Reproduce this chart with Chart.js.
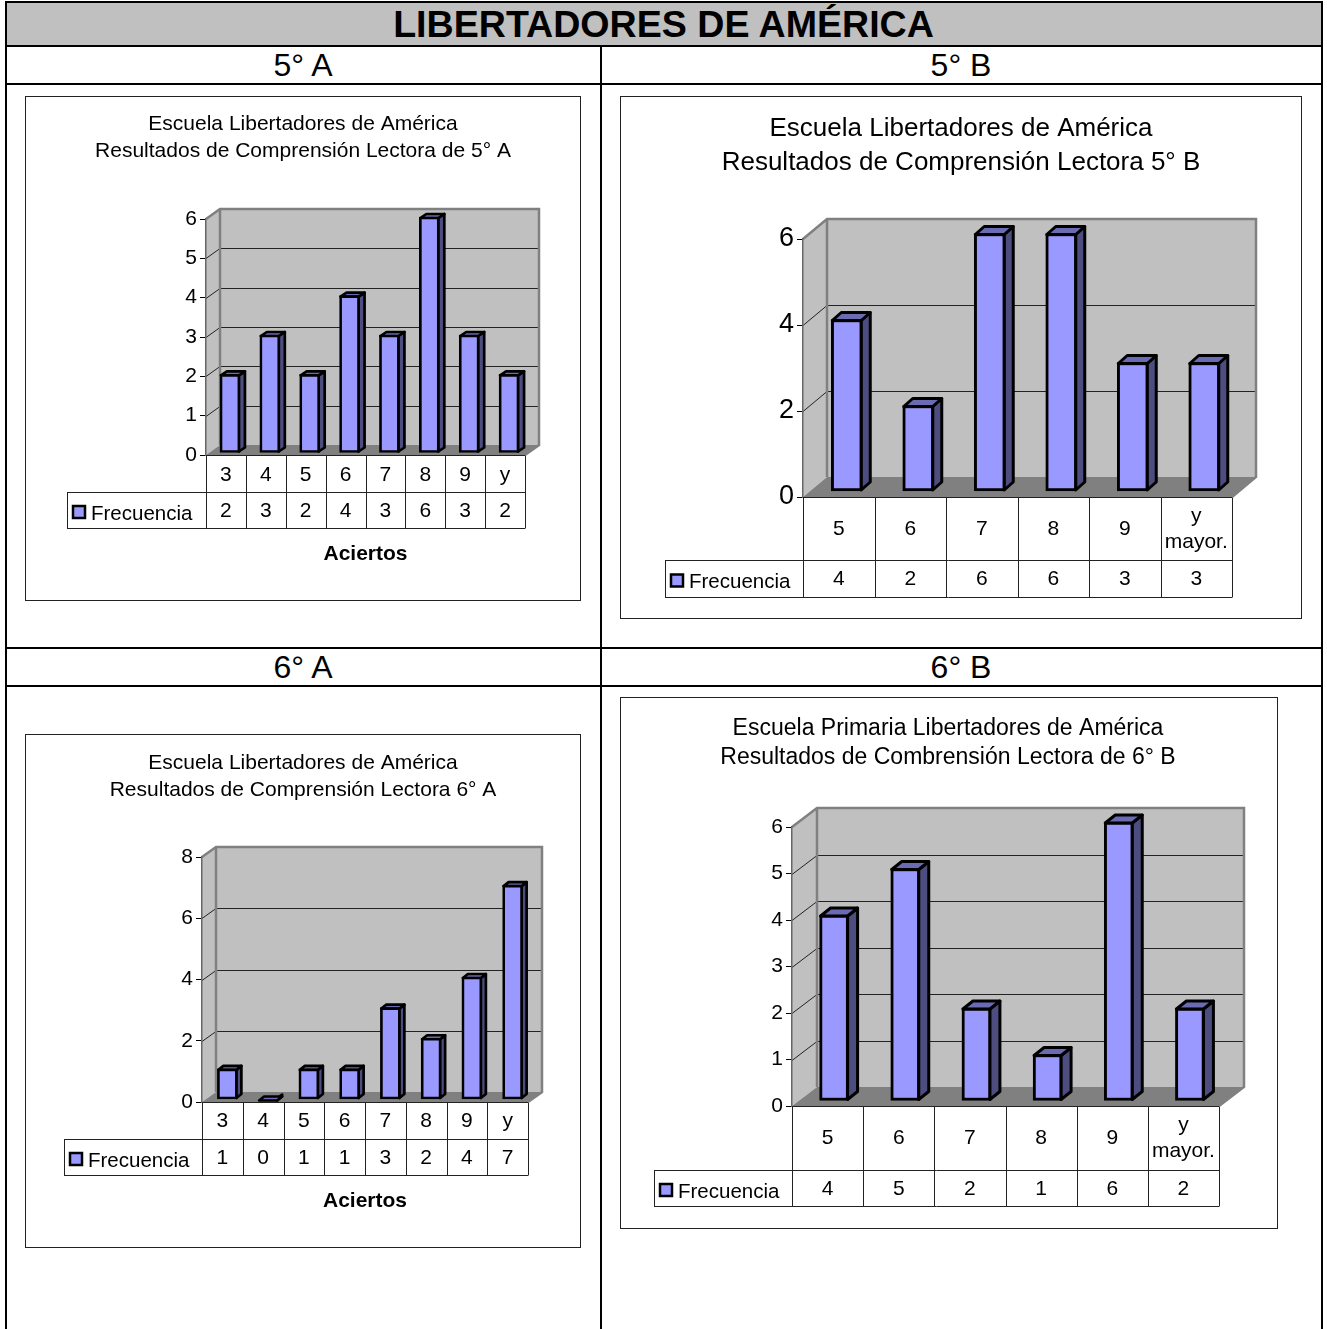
<!DOCTYPE html>
<html lang="es">
<head>
  <title>Libertadores de América</title>
  <meta charset="UTF-8" />
  <script src="https://cdn.jsdelivr.net/npm/chart.js"></script>
  <style>
    html, body { margin: 0; padding: 0; background: #fff; }
    body { position: relative; width: 1327px; height: 1329px; overflow: hidden; font-family: "Liberation Sans", Arial, sans-serif; color: #000; }
    .band { position: absolute; left: 6px; top: 2px; width: 1315px; height: 43px; background: #c0c0c0; text-align: center; font-weight: bold; font-size: 37.6px; line-height: 45px; }
    .line { position: absolute; background: #000; }
    .grade { position: absolute; width: 594px; text-align: center; font-size: 32px; line-height: 38px; }
    canvas { position: absolute; border: 1px solid #222; }
  </style>
</head>
<body>
  <div class="band">LIBERTADORES DE AMÉRICA</div>
  <div class="line" style="left:5px;top:1px;width:1318px;height:2px"></div>
  <div class="line" style="left:5px;top:45px;width:1318px;height:2px"></div>
  <div class="line" style="left:5px;top:83px;width:1318px;height:2px"></div>
  <div class="line" style="left:5px;top:647px;width:1318px;height:2px"></div>
  <div class="line" style="left:5px;top:685px;width:1318px;height:2px"></div>
  <div class="line" style="left:5px;top:1px;width:2px;height:1328px"></div>
  <div class="line" style="left:1321px;top:1px;width:2px;height:1328px"></div>
  <div class="line" style="left:600px;top:45px;width:2px;height:1284px"></div>
  <div class="grade" style="left:6px;top:46px">5° A</div>
  <div class="grade" style="left:664px;top:46px">5° B</div>
  <div class="grade" style="left:6px;top:648px">6° A</div>
  <div class="grade" style="left:664px;top:648px">6° B</div>

  <canvas id="chart5A"></canvas>
  <canvas id="chart5B"></canvas>
  <canvas id="chart6A"></canvas>
  <canvas id="chart6B"></canvas>

  <script>
    // aciertos por grupo
    const labels5A = ['3', '4', '5', '6', '7', '8', '9', 'y'];
    const values5A = [2, 3, 2, 4, 3, 6, 3, 2];
    const title5A = ['Escuela Libertadores de América', 'Resultados de Comprensión Lectora de 5° A'];

    const labels5B = ['5', '6', '7', '8', '9', ['y', 'mayor.']];
    const values5B = [4, 2, 6, 6, 3, 3];
    const title5B = ['Escuela Libertadores de América', 'Resultados de Comprensión Lectora 5° B'];

    const labels6A = ['3', '4', '5', '6', '7', '8', '9', 'y'];
    const values6A = [1, 0, 1, 1, 3, 2, 4, 7];
    const title6A = ['Escuela Libertadores de América', 'Resultados de Comprensión Lectora 6° A'];

    const labels6B = ['5', '6', '7', '8', '9', ['y', 'mayor.']];
    const values6B = [4, 5, 2, 1, 6, 2];
    const title6B = ['Escuela Primaria Libertadores de América', 'Resultados de Combrensión Lectora de 6° B'];

    const seriesName = 'Frecuencia';
    const axisName = 'Aciertos';

    const FONT = '"Liberation Sans", Arial, sans-serif';

    // falso 3D estilo Excel: paredes, piso, caras de las barras y tabla de datos
    const excel3d = {
      id: 'excel3d',
      beforeDraw(chart, args, o) {
        const { ctx, chartArea: a } = chart;
        const y = chart.scales.y;
        ctx.save();
        // pared del fondo
        ctx.fillStyle = '#c0c0c0';
        ctx.fillRect(a.left + o.dx, a.top + o.dy, a.width, a.height);
        // pared izquierda
        ctx.beginPath();
        ctx.moveTo(a.left, a.top);
        ctx.lineTo(a.left + o.dx, a.top + o.dy);
        ctx.lineTo(a.left + o.dx, a.bottom + o.dy);
        ctx.lineTo(a.left, a.bottom);
        ctx.closePath();
        ctx.fill();
        // lineas de division
        ctx.strokeStyle = '#222';
        ctx.lineWidth = 1;
        y.ticks.forEach(t => {
          if (t.value === 0 || t.value === y.max) return;
          const py = Math.round(y.getPixelForValue(t.value)) + 0.5;
          ctx.beginPath();
          ctx.moveTo(a.left, py);
          ctx.lineTo(a.left + o.dx, py + o.dy);
          ctx.lineTo(a.right + o.dx, py + o.dy);
          ctx.stroke();
        });
        // piso
        ctx.fillStyle = '#808080';
        ctx.beginPath();
        ctx.moveTo(a.left, a.bottom);
        ctx.lineTo(a.left + o.dx, a.bottom + o.dy);
        ctx.lineTo(a.right + o.dx, a.bottom + o.dy);
        ctx.lineTo(a.right, a.bottom);
        ctx.closePath();
        ctx.fill();
        // bordes de las paredes
        ctx.strokeStyle = '#808080';
        ctx.lineWidth = 2.5;
        ctx.beginPath();
        ctx.moveTo(a.left, a.top);
        ctx.lineTo(a.left + o.dx, a.top + o.dy);
        ctx.lineTo(a.right + o.dx, a.top + o.dy);
        ctx.lineTo(a.right + o.dx, a.bottom + o.dy);
        ctx.lineTo(a.right, a.bottom);
        ctx.moveTo(a.left + o.dx, a.top + o.dy);
        ctx.lineTo(a.left + o.dx, a.bottom + o.dy);
        ctx.stroke();
        ctx.restore();
      },
      beforeDatasetDraw(chart, args, o) {
        const { ctx } = chart;
        ctx.save();
        ctx.translate(o.barX, o.barY);
        ctx.lineWidth = o.barLine;
        ctx.strokeStyle = '#000';
        ctx.lineJoin = 'round';
        args.meta.data.forEach(bar => {
          const { x, y, base, width } = bar.getProps(['x', 'y', 'base', 'width'], true);
          const r = x + width / 2 - 1;
          const l = x - width / 2 + 1;
          const top = y + 1;
          // cara lateral
          ctx.fillStyle = '#4d4d80';
          ctx.beginPath();
          ctx.moveTo(r, top);
          ctx.lineTo(r + o.barDx, top + o.barDy);
          ctx.lineTo(r + o.barDx, base - 1 + o.barDy);
          ctx.lineTo(r, base - 1);
          ctx.closePath();
          ctx.fill();
          ctx.stroke();
          // cara superior
          ctx.fillStyle = '#6b6bb3';
          ctx.beginPath();
          ctx.moveTo(l, top);
          ctx.lineTo(l + o.barDx, top + o.barDy);
          ctx.lineTo(r + o.barDx, top + o.barDy);
          ctx.lineTo(r, top);
          ctx.closePath();
          ctx.fill();
          ctx.stroke();
        });
      },
      afterDatasetDraw(chart) {
        chart.ctx.restore();
      },
      afterDraw(chart, args, o) {
        const { ctx, chartArea: a } = chart;
        const x = chart.scales.x;
        const n = chart.data.labels.length;
        const cell = a.width / n;
        const r1 = a.bottom + o.rows[0];
        const r2 = r1 + o.rows[1];
        const line = v => Math.round(v) + 0.5;
        ctx.save();
        ctx.strokeStyle = '#222';
        ctx.lineWidth = 1;
        ctx.beginPath();
        ctx.moveTo(a.left, line(a.bottom));
        ctx.lineTo(a.right, line(a.bottom));
        ctx.moveTo(o.legendX, line(r1));
        ctx.lineTo(a.right, line(r1));
        ctx.moveTo(o.legendX, line(r2));
        ctx.lineTo(a.right, line(r2));
        ctx.moveTo(line(o.legendX), line(r1));
        ctx.lineTo(line(o.legendX), line(r2));
        for (let i = 0; i <= n; i++) {
          ctx.moveTo(line(a.left + i * cell), line(a.bottom));
          ctx.lineTo(line(a.left + i * cell), line(r2));
        }
        ctx.stroke();
        // fila de valores
        const ds = chart.data.datasets[0];
        ctx.fillStyle = '#000';
        ctx.textAlign = 'center';
        ctx.textBaseline = 'middle';
        ctx.font = o.tableSize + 'px ' + FONT;
        ds.data.forEach((v, i) => ctx.fillText(String(v), x.getPixelForValue(i), (r1 + r2) / 2 + 1));
        // clave de la leyenda
        const my = (r1 + r2) / 2 + 2;
        ctx.fillStyle = ds.backgroundColor;
        ctx.lineWidth = 2.5;
        ctx.strokeStyle = '#000';
        ctx.fillRect(o.legendX + 6, my - 6, 12, 12);
        ctx.strokeRect(o.legendX + 6, my - 6, 12, 12);
        ctx.fillStyle = '#000';
        ctx.textAlign = 'left';
        ctx.font = '20.5px ' + FONT;
        ctx.fillText(ds.label, o.legendX + 24, my + 2);
        // titulo de dos lineas
        ctx.textAlign = 'center';
        ctx.font = o.titleSize + 'px ' + FONT;
        o.title.forEach((t, i) => ctx.fillText(t, o.titleX, o.titleY[i]));
        ctx.restore();
      }
    };

    function drawChart(id, labels, values, title, g) {
      const canvas = document.getElementById(id);
      const W = g.box[2] - 2;
      const H = g.box[3] - 2;
      const ox = g.box[0] + 1;
      const oy = g.box[1] + 1;
      canvas.width = W;
      canvas.height = H;
      canvas.style.boxSizing = 'content-box';
      canvas.style.left = g.box[0] + 'px';
      canvas.style.top = g.box[1] + 'px';

      const tableH = g.rows[0] + g.rows[1];
      const extra = g.xTitle ? 50 : 0;
      const axisW = 60;

      new Chart(canvas, {
        type: 'bar',
        data: {
          labels: labels,
          datasets: [{
            label: seriesName,
            data: values,
            backgroundColor: '#9999ff',
            borderColor: '#000',
            borderWidth: g.barLine,
            borderSkipped: false,
            barThickness: g.barW,
            clip: false
          }]
        },
        plugins: [excel3d],
        options: {
          responsive: false,
          animation: false,
          events: [],
          layout: {
            padding: {
              left: g.axisX - ox - axisW,
              right: W - (g.axisRight - ox),
              top: g.yTop - oy,
              bottom: H - (g.y0 - oy) - tableH - extra
            }
          },
          scales: {
            x: {
              grid: { display: false, drawTicks: false, tickLength: 0 },
              border: { display: false },
              ticks: {
                color: '#000',
                autoSkip: false,
                maxRotation: 0,
                crossAlign: 'center',
                padding: g.tickPad,
                font: { family: FONT, size: g.tableSize, lineHeight: 1.24 }
              },
              title: {
                display: !!g.xTitle,
                text: g.xTitle || '',
                color: '#000',
                font: { family: FONT, size: 21, weight: 'bold' },
                padding: { top: 0, bottom: 11 }
              },
              afterFit(s) { s.height = tableH + extra; }
            },
            y: {
              min: 0,
              max: g.yMax,
              grid: { drawOnChartArea: false, drawTicks: true, tickLength: 6, color: '#000' },
              border: { color: '#666', width: 1.5 },
              ticks: {
                stepSize: g.yStep,
                color: '#000',
                padding: 3,
                font: { family: FONT, size: g.ySize }
              },
              afterFit(s) { s.width = axisW; }
            }
          },
          plugins: {
            legend: { display: false },
            tooltip: { enabled: false },
            excel3d: {
              dx: g.depth[0],
              dy: g.depth[1],
              barX: g.shift[0],
              barY: g.shift[1],
              barDx: g.barDepth[0],
              barDy: g.barDepth[1],
              barLine: g.barLine,
              rows: g.rows,
              legendX: g.legendX - ox,
              tableSize: g.tableSize,
              title: title,
              titleX: g.titleX - ox,
              titleY: g.titleY.map(v => v - oy),
              titleSize: g.titleSize
            }
          }
        }
      });
    }

    drawChart('chart5A', labels5A, values5A, title5A, {
      box: [25, 96, 556, 505], axisX: 206, axisRight: 525, y0: 455, yTop: 219, yMax: 6, yStep: 1,
      depth: [14, -10], shift: [4, -2], barW: 20, barLine: 2.7, barDepth: [6, -4], rows: [37, 36], legendX: 67,
      tableSize: 21, ySize: 21, tickPad: 20, titleX: 303, titleY: [124, 151], titleSize: 21, xTitle: axisName
    });

    drawChart('chart5B', labels5B, values5B, title5B, {
      box: [620, 96, 682, 523], axisX: 803, axisRight: 1232, y0: 497, yTop: 239, yMax: 6, yStep: 2,
      depth: [24, -20], shift: [8, -5.5], barW: 31, barLine: 3, barDepth: [9, -8], rows: [63, 37], legendX: 665,
      tableSize: 21, ySize: 27, tickPad: 19, titleX: 961, titleY: [129, 163], titleSize: 26
    });

    drawChart('chart6A', labels6A, values6A, title6A, {
      box: [25, 734, 556, 514], axisX: 202, axisRight: 528, y0: 1102, yTop: 857, yMax: 8, yStep: 2,
      depth: [14, -10], shift: [5, -2.5], barW: 20, barLine: 2.7, barDepth: [5, -4], rows: [37, 36], legendX: 64,
      tableSize: 21, ySize: 21, tickPad: 19.5, titleX: 303, titleY: [763, 790], titleSize: 21, xTitle: axisName
    });

    drawChart('chart6B', labels6B, values6B, title6B, {
      box: [620, 697, 658, 532], axisX: 792, axisRight: 1219, y0: 1106, yTop: 827, yMax: 6, yStep: 1,
      depth: [25, -19], shift: [6.5, -5], barW: 29, barLine: 3, barDepth: [10, -8], rows: [64, 36], legendX: 654,
      tableSize: 21, ySize: 21, tickPad: 19, titleX: 948, titleY: [729, 758], titleSize: 23
    });
  </script>
</body>
</html>
